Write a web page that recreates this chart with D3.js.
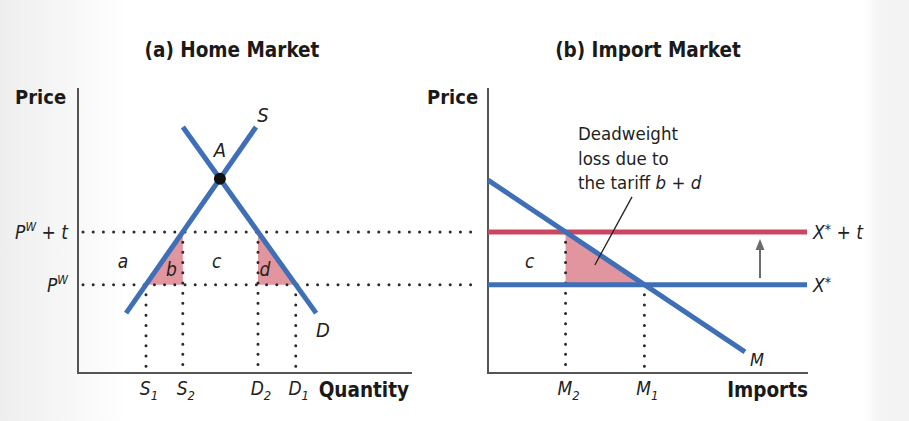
<!DOCTYPE html>
<html>
<head>
<meta charset="utf-8">
<script src="https://cdn.jsdelivr.net/npm/d3@7"></script>
<style>
  body { margin: 0; background: #fff; }
  svg { display: block; }
  .title, .axis-title { font-family: "DejaVu Sans Condensed", "DejaVu Sans", sans-serif; font-weight: bold; fill: #1a1a1a; }
  .lbl { font-family: "DejaVu Sans Condensed", "DejaVu Sans", sans-serif; font-style: italic; fill: #222; }
  .note { font-family: "DejaVu Sans Condensed", "DejaVu Sans", sans-serif; fill: #222; }
</style>
</head>
<body>
<svg id="chart" width="909" height="421"></svg>
<script>
// ---- data ----
const titles = ["(a) Home Market", "(b) Import Market"];
const axisY = "Price";
const axisXHome = "Quantity";
const axisXImport = "Imports";

// price levels: world price and world price plus tariff
const priceLevels = [3.1, 4.95];
const priceLabels = [["P", "W", ""], ["P", "W", " + t"]];

// home market curves (quantity, price)
const homeSupply = [{ q: 1.44, p: 2.1 }, { q: 5.33, p: 8.63 }];
const homeDemand = [{ q: 3.14, p: 8.63 }, { q: 7.13, p: 2.1 }];
const homeAreaLabels = [
  { t: "a", q: 1.35, p: 3.9 },
  { t: "b", q: 2.8, p: 3.6 },
  { t: "c", q: 4.15, p: 3.9 },
  { t: "d", q: 5.6, p: 3.6 }
];

// import market curves
const importDemand = [{ q: 0, p: 6.77 }, { q: 8.03, p: 0.74 }];
const exportSupplyEnd = 9.97;
const arrowSpan = { q: 8.5, from: 3.33, to: 4.7 };
const noteLines = ["Deadweight", "loss due to", "the tariff "];
const noteLeader = [{ q: 4.5, p: 6.18 }, { q: 3.34, p: 3.79 }];

// ---- layout ----
const svg = d3.select("#chart");
const blue = "#3f6fb6", red = "#c94760", pink = "#e0959f", dark = "#2a2a2a";

const defs = svg.append("defs");
const g1 = defs.append("linearGradient").attr("id", "bg").attr("x1", 0).attr("x2", 1);
g1.append("stop").attr("offset", "0").attr("stop-color", "#eeeeee");
g1.append("stop").attr("offset", "0.14").attr("stop-color", "#ffffff");
g1.append("stop").attr("offset", "0.95").attr("stop-color", "#ffffff");
g1.append("stop").attr("offset", "0.97").attr("stop-color", "#f3f3f3");
svg.append("rect").attr("width", 909).attr("height", 421).attr("fill", "url(#bg)");

const y = d3.scaleLinear().domain([0, 10]).range([373, 88]);
const xL = d3.scaleLinear().domain([0, 10]).range([78, 412]);
const xR = d3.scaleLinear().domain([0, 10]).range([488, 808]);

function cross(line, p) {
  const [a, b] = line;
  return a.q + (p - a.p) * (b.q - a.q) / (b.p - a.p);
}

const [pw, pwt] = priceLevels;
const S1 = cross(homeSupply, pw), S2 = cross(homeSupply, pwt);
const D1 = cross(homeDemand, pw), D2 = cross(homeDemand, pwt);
const M2 = cross(importDemand, pwt), M1 = cross(importDemand, pw);

const ln = (x) => d3.line().x(d => x(d.q)).y(d => y(d.p));

// titles
svg.append("text").attr("class", "title").attr("x", 232).attr("y", 57)
  .attr("text-anchor", "middle").attr("font-size", 20.5).text(titles[0]);
svg.append("text").attr("class", "title").attr("x", 648).attr("y", 57)
  .attr("text-anchor", "middle").attr("font-size", 20.5).text(titles[1]);

// shaded triangles
const tri = [
  [{ q: S1, p: pw }, { q: S2, p: pwt }, { q: S2, p: pw }],
  [{ q: D2, p: pwt }, { q: D2, p: pw }, { q: D1, p: pw }]
];
tri.forEach(t => svg.append("path").attr("d", ln(xL)(t) + "Z").attr("fill", pink));
svg.append("path")
  .attr("d", ln(xR)([{ q: M2, p: pwt }, { q: M2, p: pw }, { q: M1, p: pw }]) + "Z")
  .attr("fill", pink);

// dotted guides
function dots(x1, y1, x2, y2) {
  svg.append("line").attr("x1", x1).attr("y1", y1).attr("x2", x2).attr("y2", y2)
    .attr("stroke", dark).attr("stroke-width", 3).attr("stroke-linecap", "round")
    .attr("stroke-dasharray", "0 10.2");
}
priceLevels.forEach(p => dots(xL(0) + 5, y(p), xR(0) - 8, y(p)));
[[S1, pw], [S2, pwt], [D2, pwt], [D1, pw]].forEach(([q, p]) => dots(xL(q), y(p), xL(q), y(0) - 4));
[[M2, pwt], [M1, pw]].forEach(([q, p]) => dots(xR(q), y(p), xR(q), y(0) - 4));

// axes
[xL, xR].forEach(x => {
  svg.append("path").attr("d", `M${x(0)},${y(10)}V${y(0)}H${x(10)}`)
    .attr("fill", "none").attr("stroke", "#555").attr("stroke-width", 2);
});

// home curves
[homeSupply, homeDemand].forEach(c => svg.append("path").attr("d", ln(xL)(c))
  .attr("fill", "none").attr("stroke", blue).attr("stroke-width", 5));
const Aq = (() => {
  const s = homeSupply, d = homeDemand;
  const ms = (s[1].p - s[0].p) / (s[1].q - s[0].q), md = (d[1].p - d[0].p) / (d[1].q - d[0].q);
  const q = (d[0].p - s[0].p + ms * s[0].q - md * d[0].q) / (ms - md);
  return { q, p: s[0].p + ms * (q - s[0].q) };
})();
svg.append("circle").attr("cx", xL(Aq.q)).attr("cy", y(Aq.p)).attr("r", 6).attr("fill", "#111");

// import market lines
svg.append("line").attr("x1", xR(0)).attr("x2", xR(exportSupplyEnd)).attr("y1", y(pwt)).attr("y2", y(pwt))
  .attr("stroke", red).attr("stroke-width", 5);
svg.append("line").attr("x1", xR(0)).attr("x2", xR(exportSupplyEnd)).attr("y1", y(pw)).attr("y2", y(pw))
  .attr("stroke", blue).attr("stroke-width", 5);
svg.append("path").attr("d", ln(xR)(importDemand))
  .attr("fill", "none").attr("stroke", blue).attr("stroke-width", 5);

// arrow
svg.append("line").attr("x1", xR(arrowSpan.q)).attr("x2", xR(arrowSpan.q))
  .attr("y1", y(arrowSpan.from)).attr("y2", y(arrowSpan.to) + 8)
  .attr("stroke", "#6b6b6b").attr("stroke-width", 2);
svg.append("path")
  .attr("d", `M${xR(arrowSpan.q)},${y(arrowSpan.to)}l-4.5,11h9Z`).attr("fill", "#6b6b6b");

// leader line
svg.append("path").attr("d", ln(xR)(noteLeader)).attr("stroke", "#222").attr("stroke-width", 1.3).attr("fill", "none");

// labels
function lbl(x, yy, t, size, anchor) {
  return svg.append("text").attr("class", "lbl").attr("x", x).attr("y", yy)
    .attr("font-size", size || 19).attr("text-anchor", anchor || "middle").text(t);
}
lbl(263, 122, "S", 20);
lbl(220, 157, "A", 20);
lbl(323, 337, "D", 20);
lbl(757, 366, "M", 18);
homeAreaLabels.forEach(d => lbl(xL(d.q), y(d.p) + 6, d.t));
lbl(xR(1.3), y(3.9) + 6, "c");

// price labels (superscript W)
priceLabels.forEach((pl, i) => {
  const t = svg.append("text").attr("class", "lbl").attr("x", 68).attr("y", y(priceLevels[i]) + 7)
    .attr("font-size", 19).attr("text-anchor", "end");
  t.append("tspan").text(pl[0]);
  t.append("tspan").attr("font-size", 12).attr("dy", -8).text(pl[1]);
  if (pl[2]) t.append("tspan").attr("dy", 8).text(pl[2]);
});

// X* labels
function starLabel(p, extra) {
  const t = svg.append("text").attr("class", "lbl").attr("x", 813).attr("y", y(p) + 7).attr("font-size", 19);
  t.append("tspan").text("X");
  t.append("tspan").attr("font-size", 14).attr("dy", -5).text("*");
  if (extra) t.append("tspan").attr("dy", 5).text(extra);
}
starLabel(pwt, " + t");
starLabel(pw, "");

// tick labels with subscripts
function sub(x, main, s) {
  const t = svg.append("text").attr("class", "lbl").attr("x", x).attr("y", 395)
    .attr("font-size", 19).attr("text-anchor", "middle");
  t.append("tspan").text(main);
  t.append("tspan").attr("font-size", 13).attr("dy", 5).text(s);
}
sub(xL(S1) + 3, "S", "1");
sub(xL(S2) + 3, "S", "2");
sub(xL(D2) + 3, "D", "2");
sub(xL(D1) + 3, "D", "1");
sub(xR(M2) + 3, "M", "2");
sub(xR(M1) + 3, "M", "1");

// axis titles
svg.append("text").attr("class", "axis-title").attr("x", 15).attr("y", 104).attr("font-size", 20).text(axisY);
svg.append("text").attr("class", "axis-title").attr("x", 427).attr("y", 104).attr("font-size", 20).text(axisY);
svg.append("text").attr("class", "axis-title").attr("x", 409).attr("y", 397).attr("font-size", 20.5)
  .attr("text-anchor", "end").text(axisXHome);
svg.append("text").attr("class", "axis-title").attr("x", 808).attr("y", 397).attr("font-size", 20.5)
  .attr("text-anchor", "end").text(axisXImport);

// annotation
const note = svg.append("text").attr("class", "note").attr("x", 578).attr("font-size", 18.5);
noteLines.forEach((l, i) => {
  note.append("tspan").attr("x", 578).attr("y", 140 + i * 24.5).text(l);
  if (i === noteLines.length - 1) {
    note.append("tspan").attr("font-style", "italic").text("b");
    note.append("tspan").text(" + ");
    note.append("tspan").attr("font-style", "italic").text("d");
  }
});
</script>
</body>
</html>
